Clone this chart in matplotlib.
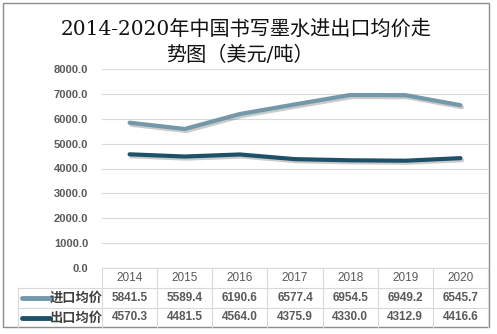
import matplotlib

matplotlib.use("Agg")
import matplotlib.pyplot as plt
import matplotlib.patheffects as pe
from matplotlib.patches import Rectangle
from matplotlib.lines import Line2D

years = ["2014", "2015", "2016", "2017", "2018", "2019", "2020"]
import_price = [5841.5, 5589.4, 6190.6, 6577.4, 6954.5, 6949.2, 6545.7]
export_price = [4570.3, 4481.5, 4564.0, 4375.9, 4330.0, 4312.9, 4416.6]
series_names = ["进口均价", "出口均价"]
series_colors = ["#7398a9", "#1d5167"]
yticks = [0, 1000, 2000, 3000, 4000, 5000, 6000, 7000, 8000]

W, H = 497, 334
CJK = ["Noto Sans CJK SC", "DejaVu Sans"]
GRID = "#d9d9d9"
TXT = "#595959"


def fx(px):
    return px / W


def fy(py):
    return 1 - py / H


fig = plt.figure(figsize=(W / 100, H / 100), dpi=100)
ax = fig.add_axes([fx(102), fy(268), fx(488) - fx(102), fy(69) - fy(268)])

x = list(range(len(years)))
shadow = [pe.SimpleLineShadow(offset=(1.2, -1.5), alpha=0.3, shadow_color="#555555"),
          pe.Normal()]
for vals, color in zip([import_price, export_price], series_colors):
    ax.plot(x, vals, color=color, lw=3, solid_capstyle="round", path_effects=shadow,
            zorder=3)

ax.set_xlim(-0.5, len(years) - 0.5)
ax.set_ylim(0, 8000)
ax.set_yticks(yticks)
ax.set_yticklabels([f"{v:.1f}" for v in yticks], fontsize=8, color=TXT,
                   family="Liberation Sans", fontweight="bold")
ax.tick_params(axis="y", length=0, pad=10)
ax.set_xticks([])
ax.grid(axis="y", color=GRID, lw=0.8)
for s in ax.spines.values():
    s.set_visible(False)

# data table under the plot
tr = fig.transFigure
col_edges = [fx(102 + i * (386 / 7)) for i in range(8)]
row_edges = [fy(268), fy(288), fy(308), fy(327)]
label_left = fx(18)

for i, yr in enumerate(years):
    cx = (col_edges[i] + col_edges[i + 1]) / 2
    fig.text(cx, (row_edges[0] + row_edges[1]) / 2, yr, ha="center", va="center",
             fontsize=8.5, color=TXT, family="Liberation Sans")
    for r, vals in enumerate([import_price, export_price]):
        fig.text(cx, (row_edges[r + 1] + row_edges[r + 2]) / 2, f"{vals[i]:.1f}",
                 ha="center", va="center", fontsize=8.5, color=TXT,
                 family="Liberation Sans", fontweight="bold")

for r, (name, color) in enumerate(zip(series_names, series_colors)):
    cy = (row_edges[r + 1] + row_edges[r + 2]) / 2
    fig.add_artist(Line2D([fx(22), fx(50)], [cy, cy], color=color, lw=3.5,
                          solid_capstyle="round", transform=tr))
    fig.text(fx(50), cy, name, ha="left", va="center", fontsize=9.5, color="#404040",
             family=CJK, fontweight="bold")

# table grid lines
fig.add_artist(Line2D([col_edges[0], col_edges[-1]], [row_edges[0]] * 2, color=GRID,
                      lw=0.8, transform=tr))
for y in row_edges[1:3]:
    fig.add_artist(Line2D([label_left, col_edges[-1]], [y, y], color=GRID, lw=0.8,
                          transform=tr))
for xe in col_edges:
    fig.add_artist(Line2D([xe, xe], [row_edges[0], row_edges[-1]], color=GRID, lw=0.8,
                          transform=tr))
fig.add_artist(Line2D([label_left, label_left], [row_edges[1], row_edges[-1]],
                      color=GRID, lw=0.8, transform=tr))

# title
title_font = ["DejaVu Serif", "Noto Sans CJK SC"]
fig.text(fx(246), fy(29), "2014-2020年中国书写墨水进出口均价走", ha="center", va="center",
         fontsize=14.5, color="#111111", family=title_font)
fig.text(fx(240), fy(55), "势图（美元/吨）", ha="center", va="center",
         fontsize=14.5, color="#111111", family=title_font)

# outer border
fig.add_artist(Rectangle((fx(3), fy(327)), fx(489) - fx(3), fy(3) - fy(327),
                         fill=False, edgecolor="#8c8c8c", lw=1, transform=tr))

fig.savefig("out.png", dpi=100)
